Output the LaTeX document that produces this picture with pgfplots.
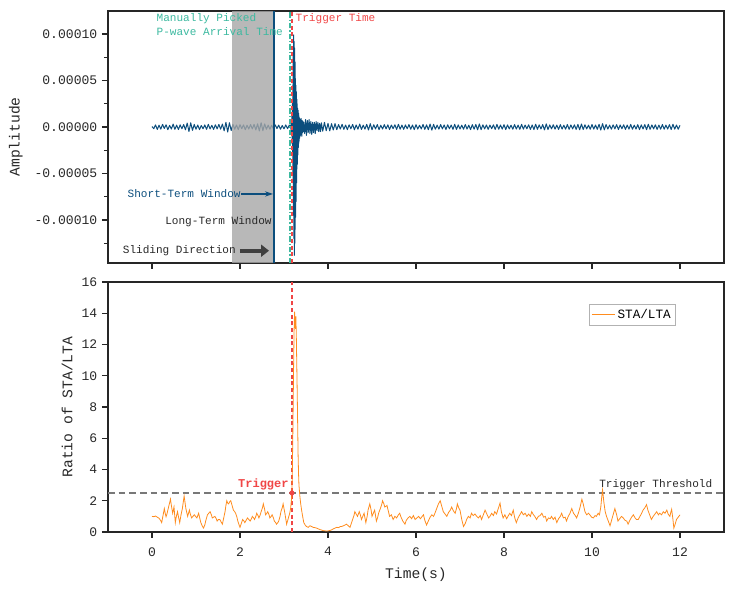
\documentclass[border=0pt]{standalone}
\usepackage{fontspec}
\setmainfont{Liberation Mono}
\usepackage{pgfplots}
\pgfplotsset{compat=1.18}
\usetikzlibrary{arrows.meta}

\definecolor{wave}{RGB}{12,78,125}
\definecolor{stalta}{RGB}{255,140,30}
\definecolor{trig}{RGB}{240,70,70}
\definecolor{pick}{RGB}{60,185,160}
\definecolor{win}{RGB}{166,166,166}
\definecolor{thr}{RGB}{120,120,120}
\definecolor{txt}{RGB}{40,40,40}

\pgfplotsset{
  panel/.style={
    scale only axis, width=462pt,
    xmin=-1, xmax=13, xtick={0,2,...,12},
    tick align=outside, xtick pos=bottom, ytick pos=left,
    axis line style={line width=0.8pt, black!85},
    major tick length=4.5pt, minor tick length=3pt,
    every tick/.style={black!85, line width=0.8pt},
    tick label style={font=\fontsize{9.8}{11}\selectfont, text=txt},
    label style={font=\fontsize{11}{13}\selectfont, text=txt},
    /pgf/number format/assume math mode=true,
  }
}

\begin{document}
\begin{tikzpicture}
\useasboundingbox (0,0) rectangle (552pt,444pt);

% ---------------- waveform (amplitude in units of 1e-6) ----------------
\begin{axis}[panel, at={(81pt,246.75pt)}, anchor=south west, height=189pt,
  ymin=-146.2, ymax=124.7,
  ytick={-100,-50,0,50,100},
  yticklabels={-0.00010,-0.00005,0.00000,0.00005,0.00010},
  minor ytick={-125,-75,-25,25,75},
  xticklabels={}, ylabel={Amplitude}, ylabel style={xshift=0pt, yshift=2pt}]

\addplot[wave, line width=0.75pt, line join=round] coordinates {
(0.00,0.5)(0.04,-1.8)(0.08,2.2)(0.12,-2.6)(0.16,1.9)(0.20,-2.3)(0.24,2.8)(0.28,-1.6)(0.32,2.4)(0.36,-2.9)
(0.40,1.7)(0.44,-2.2)(0.48,3.1)(0.52,-2.5)(0.56,2.0)(0.60,-2.7)(0.64,2.3)(0.68,-1.9)(0.72,2.6)(0.76,-3.0)
(0.80,4.2)(0.84,-4.8)(0.88,4.5)(0.92,-3.6)(0.96,2.7)(1.00,-2.4)(1.04,2.1)(1.08,-2.8)(1.12,1.6)(1.16,-1.9)
(1.20,2.2)(1.24,-2.5)(1.28,2.9)(1.32,-2.1)(1.36,1.8)(1.40,-2.6)(1.44,2.4)(1.48,-2.0)(1.52,2.7)(1.56,-2.3)
(1.60,3.2)(1.64,-4.1)(1.68,5.0)(1.72,-5.4)(1.76,4.6)(1.80,-3.8)(1.84,2.9)(1.88,-2.4)(1.92,2.1)(1.96,-2.7)
(2.00,2.5)(2.04,-1.8)(2.08,2.3)(2.12,-2.9)(2.16,1.9)(2.20,-2.2)(2.24,2.6)(2.28,-2.0)(2.32,2.8)(2.36,-3.1)
(2.40,3.4)(2.44,-4.2)(2.48,4.6)(2.52,-3.9)(2.56,3.3)(2.60,-2.5)(2.64,2.0)(2.68,-2.4)(2.72,1.8)(2.76,-2.1)
(2.80,2.3)(2.84,-1.7)(2.88,2.0)(2.92,-2.4)(2.96,1.6)(3.00,-2.0)(3.04,2.2)(3.08,-1.8)(3.12,2.1)
(3.150,1)(3.155,-2)(3.160,3)(3.165,-4)(3.170,6)(3.175,-8)(3.180,12)(3.185,-18)(3.190,25)(3.195,-30)
(3.200,45)(3.205,-60)(3.210,80)(3.215,-95)(3.220,99)(3.225,-120)(3.230,92)(3.235,-138)(3.240,85)(3.245,-125)
(3.250,70)(3.255,-110)(3.260,52)(3.265,-97)(3.270,45)(3.275,-80)(3.280,38)(3.285,-60)(3.290,30)(3.295,-45)
(3.300,25)(3.305,-40)(3.310,20)(3.315,-30)(3.320,18)(3.325,-22)(3.330,15)(3.335,-18)(3.340,12)(3.345,-15)
(3.350,10)(3.355,-12)(3.360,9)(3.365,-10)(3.370,8)(3.375,-9)(3.380,7)(3.385,-8)(3.390,9)(3.395,-7)
(3.400,6)(3.405,-10)(3.410,7)(3.415,-6)(3.420,5)(3.425,-6)(3.430,6)(3.435,-5)(3.440,4)(3.445,-5)(3.450,5)
(3.47,-7)(3.49,8)(3.51,-9)(3.53,7)(3.55,-6)(3.57,8)(3.59,-7)(3.61,6)(3.63,-8)(3.65,5)
(3.67,-6)(3.69,5)(3.71,-7)(3.73,6)(3.75,-4)(3.77,5)(3.79,-5)(3.81,4)(3.83,-5)(3.85,4.5)
(3.88,-4.5)(3.92,5)(3.96,-4)(4.00,3.8)(4.04,-4.2)(4.08,3.5)(4.12,-3.2)(4.16,3.6)(4.20,-2.9)
(4.24,2.6)(4.28,-2.2)(4.32,2.9)(4.36,-2.5)(4.40,2.1)(4.44,-2.8)(4.48,2.4)(4.52,-1.9)(4.56,2.7)(4.60,-3.0)
(4.64,2.2)(4.68,-2.4)(4.72,3.1)(4.76,-2.6)(4.80,2.0)(4.84,-2.3)(4.88,2.8)(4.92,-3.2)(4.96,3.5)(5.00,-2.9)
(5.04,2.4)(5.08,-2.1)(5.12,2.6)(5.16,-2.8)(5.20,1.9)(5.24,-2.2)(5.28,2.5)(5.32,-2.0)(5.36,2.3)(5.40,-2.7)
(5.44,2.1)(5.48,-1.8)(5.52,2.4)(5.56,-2.6)(5.60,2.9)(5.64,-2.3)(5.68,2.0)(5.72,-2.5)(5.76,2.2)(5.80,-1.9)
(5.84,2.6)(5.88,-2.4)(5.92,2.1)(5.96,-2.8)(6.00,2.5)(6.04,-2.2)(6.08,1.8)(6.12,-2.1)(6.16,2.7)(6.20,-2.5)
(6.24,2.3)(6.28,-2.9)(6.32,3.2)(6.36,-3.4)(6.40,2.8)(6.44,-2.4)(6.48,2.0)(6.52,-2.3)(6.56,2.6)(6.60,-2.0)
(6.64,2.2)(6.68,-2.7)(6.72,2.4)(6.76,-1.9)(6.80,2.1)(6.84,-2.5)(6.88,2.9)(6.92,-2.6)(6.96,2.3)(7.00,-2.1)
(7.04,1.9)(7.08,-2.4)(7.12,2.6)(7.16,-2.2)(7.20,2.0)(7.24,-2.8)(7.28,2.5)(7.32,-2.3)(7.36,2.7)(7.40,-3.0)
(7.44,3.3)(7.48,-2.9)(7.52,2.4)(7.56,-2.1)(7.60,2.2)(7.64,-2.5)(7.68,2.0)(7.72,-1.8)(7.76,2.3)(7.80,-2.6)
(7.84,2.8)(7.88,-2.4)(7.92,2.1)(7.96,-2.2)(8.00,2.5)(8.04,-2.7)(8.08,2.3)(8.12,-2.0)(8.16,1.9)(8.20,-2.4)
(8.24,2.6)(8.28,-2.2)(8.32,2.0)(8.36,-2.5)(8.40,2.8)(8.44,-2.3)(8.48,2.1)(8.52,-1.9)(8.56,2.4)(8.60,-2.6)
(8.64,2.2)(8.68,-2.8)(8.72,3.0)(8.76,-2.5)(8.80,2.3)(8.84,-2.1)(8.88,2.6)(8.92,-3.1)(8.96,3.3)(9.00,-2.7)
(9.04,2.2)(9.08,-2.0)(9.12,2.4)(9.16,-2.3)(9.20,2.1)(9.24,-2.6)(9.28,2.5)(9.32,-2.2)(9.36,1.9)(9.40,-2.4)
(9.44,2.7)(9.48,-2.5)(9.52,2.2)(9.56,-2.0)(9.60,2.3)(9.64,-2.6)(9.68,2.8)(9.72,-3.0)(9.76,3.2)(9.80,-2.7)
(9.84,2.4)(9.88,-2.1)(9.92,2.0)(9.96,-2.4)(10.00,2.6)(10.04,-2.3)(10.08,2.1)(10.12,-2.5)(10.16,2.9)(10.20,-3.3)
(10.24,3.6)(10.28,-3.1)(10.32,2.6)(10.36,-2.2)(10.40,2.0)(10.44,-2.4)(10.48,2.3)(10.52,-2.0)(10.56,2.5)(10.60,-2.7)
(10.64,2.2)(10.68,-1.9)(10.72,2.4)(10.76,-2.6)(10.80,2.1)(10.84,-2.3)(10.88,2.7)(10.92,-2.4)(10.96,2.0)(11.00,-2.2)
(11.04,2.5)(11.08,-2.8)(11.12,2.3)(11.16,-2.1)(11.20,2.6)(11.24,-2.9)(11.28,3.0)(11.32,-2.5)(11.36,2.2)(11.40,-2.0)
(11.44,2.4)(11.48,-2.6)(11.52,2.1)(11.56,-2.3)(11.60,2.7)(11.64,-2.4)(11.68,2.0)(11.72,-2.2)(11.76,2.5)(11.80,-2.7)
(11.84,2.9)(11.88,-2.3)(11.92,2.1)(11.96,-2.4)(12.00,1.8)
};

% long-term window shading
\addplot[draw=none, fill=win, fill opacity=0.8] coordinates
  {(1.82,-146.2)(1.82,124.7)(2.77,124.7)(2.77,-146.2)} -- cycle;
% short-term window edge
\addplot[wave, line width=1.4pt] coordinates {(2.77,-146.2)(2.77,124.7)};
% manual pick and trigger time
\addplot[pick, line width=1.1pt, dash pattern=on 4pt off 1.5pt on 1pt off 1.5pt] coordinates {(3.14,-146.2)(3.14,124.7)};
\addplot[trig, line width=1.1pt, dash pattern=on 3pt off 2pt] coordinates {(3.18,-146.2)(3.18,124.7)};

% arrows
\addplot[wave, line width=0.9pt, -{Stealth[length=6pt,width=4pt]}] coordinates {(2.02,-72)(2.75,-72)};
\addplot[black!75, line width=3.2pt, -{Triangle[length=6pt,width=9pt]}] coordinates {(2.00,-133)(2.66,-133)};

\node[anchor=west, align=left, text=pick, font=\fontsize{8.3}{10}\selectfont, inner sep=0pt]
  at (axis cs:0.10,110) {Manually Picked\\P-wave Arrival Time};
\node[anchor=west, text=trig, font=\fontsize{8.3}{10}\selectfont, inner sep=0pt]
  at (axis cs:3.26,117) {Trigger Time};
\node[anchor=east, text=wave, font=\fontsize{8.3}{10}\selectfont, inner sep=0pt]
  at (axis cs:2.02,-72) {Short-Term Window};
\node[anchor=center, text=txt, font=\fontsize{8.3}{10}\selectfont, inner sep=0pt]
  at (axis cs:1.51,-102) {Long-Term Window};
\node[anchor=east, text=txt, font=\fontsize{8.3}{10}\selectfont, inner sep=0pt]
  at (axis cs:1.91,-133) {Sliding Direction};
\end{axis}

% ---------------- STA/LTA ratio ----------------
\begin{axis}[panel, at={(81pt,45pt)}, anchor=south west, height=187.5pt,
  ymin=0, ymax=16, ytick={0,2,...,16},
  xticklabel style={yshift=-3.5pt},
  xlabel={Time(s)}, xlabel style={yshift=-2pt},
  ylabel={Ratio of STA/LTA},
  legend style={at={(0.781,0.912)}, anchor=north west, draw=black!30,
    font=\fontsize{9.5}{11}\selectfont, inner sep=1.5pt, row sep=0pt},
  legend cell align=left]

\addplot[thr, line width=1.1pt, dash pattern=on 5pt off 3pt, forget plot] coordinates {(-1,2.5)(13,2.5)};
\addplot[trig, line width=1.1pt, dash pattern=on 3pt off 2pt, forget plot] coordinates {(3.18,0)(3.18,16)};

\addplot[stalta, line width=0.6pt] coordinates {
(0.00,1.00)(0.04,0.98)(0.08,1.02)(0.12,0.95)(0.16,0.88)(0.20,0.72)(0.22,0.60)(0.25,1.05)(0.28,1.50)(0.30,1.20)
(0.32,0.98)(0.34,1.15)(0.36,1.40)(0.39,1.75)(0.42,2.10)(0.44,1.70)(0.47,1.20)(0.50,1.60)(0.53,0.60)(0.55,0.95)
(0.58,1.30)(0.60,1.00)(0.63,0.60)(0.66,1.10)(0.69,1.50)(0.71,1.90)(0.73,2.30)(0.75,1.90)(0.77,1.50)(0.79,1.25)
(0.81,1.00)(0.83,1.20)(0.85,1.40)(0.87,1.15)(0.90,0.90)(0.93,1.00)(0.96,1.10)(0.99,1.00)(1.02,0.90)(1.04,1.05)
(1.06,1.20)(1.08,0.95)(1.11,0.60)(1.14,0.40)(1.17,0.25)(1.20,0.45)(1.22,0.70)(1.24,0.90)(1.26,1.10)(1.29,1.20)
(1.32,1.30)(1.35,1.10)(1.37,0.90)(1.40,0.95)(1.43,1.00)(1.46,0.85)(1.48,0.70)(1.51,0.80)(1.54,0.80)(1.57,0.65)
(1.60,0.50)(1.63,0.90)(1.66,1.30)(1.68,1.70)(1.70,2.00)(1.72,1.85)(1.74,1.80)(1.77,1.95)(1.79,2.00)(1.82,1.70)
(1.85,1.40)(1.88,1.30)(1.90,1.20)(1.93,0.95)(1.95,0.70)(1.98,0.45)(2.00,0.30)(2.03,0.55)(2.06,0.80)(2.09,0.70)
(2.11,0.60)(2.14,0.75)(2.17,0.90)(2.20,0.80)(2.23,0.70)(2.26,0.85)(2.28,1.00)(2.31,0.90)(2.33,0.80)(2.36,1.00)
(2.38,1.20)(2.41,1.05)(2.43,0.90)(2.46,1.10)(2.48,1.30)(2.51,1.55)(2.53,1.80)(2.56,1.45)(2.58,1.10)(2.61,1.20)
(2.63,1.30)(2.66,1.10)(2.68,0.90)(2.71,1.00)(2.73,1.10)(2.76,0.90)(2.78,0.70)(2.81,0.60)(2.83,0.50)(2.86,0.60)
(2.88,0.70)(2.91,1.00)(2.93,1.30)(2.96,1.55)(2.98,1.80)(3.00,1.50)(3.02,1.20)(3.04,0.85)(3.06,0.50)(3.08,0.70)
(3.10,0.90)(3.13,1.20)(3.15,1.50)(3.17,2.10)(3.18,2.50)(3.19,4.00)(3.20,6.00)(3.21,8.50)(3.22,11.00)(3.23,13.00)
(3.24,14.10)(3.25,13.60)(3.26,13.00)(3.27,13.80)(3.28,12.50)(3.29,10.80)(3.30,9.00)(3.31,7.00)(3.32,5.00)(3.33,3.80)
(3.34,3.00)(3.36,2.30)(3.38,1.80)(3.40,1.40)(3.43,0.90)(3.45,0.60)(3.48,0.45)(3.51,0.35)(3.55,0.30)(3.59,0.40)
(3.63,0.35)(3.66,0.30)(3.70,0.28)(3.74,0.25)(3.78,0.20)(3.82,0.15)(3.86,0.12)(3.90,0.08)(3.94,0.07)(3.98,0.06)
(4.02,0.08)(4.05,0.10)(4.09,0.15)(4.12,0.20)(4.16,0.25)(4.20,0.30)(4.24,0.28)(4.28,0.35)(4.31,0.35)(4.35,0.40)
(4.39,0.45)(4.42,0.50)(4.46,0.40)(4.50,0.30)(4.53,0.55)(4.56,0.80)(4.59,1.05)(4.61,1.30)(4.64,1.15)(4.67,1.00)
(4.69,1.15)(4.71,1.30)(4.74,1.05)(4.76,0.80)(4.79,1.00)(4.82,1.20)(4.84,0.90)(4.86,0.60)(4.89,1.00)(4.91,1.40)
(4.93,1.60)(4.95,1.80)(4.98,1.40)(5.00,1.00)(5.03,1.20)(5.06,1.40)(5.08,1.05)(5.10,0.70)(5.13,0.95)(5.15,1.20)
(5.17,1.35)(5.19,1.50)(5.22,1.75)(5.24,2.00)(5.27,1.80)(5.29,1.60)(5.32,1.65)(5.34,1.70)(5.37,1.35)(5.40,1.00)
(5.44,1.10)(5.48,0.80)(5.52,1.00)(5.56,0.90)(5.60,1.10)(5.63,1.20)(5.66,0.95)(5.70,0.70)(5.75,0.50)(5.78,0.75)
(5.82,0.90)(5.86,1.00)(5.90,0.85)(5.94,1.05)(5.98,0.80)(6.02,0.90)(6.06,1.00)(6.10,0.85)(6.14,1.00)(6.17,1.10)
(6.20,0.75)(6.24,0.45)(6.28,0.70)(6.32,0.95)(6.36,1.10)(6.40,1.00)(6.43,1.20)(6.47,1.50)(6.51,1.80)(6.55,2.00)
(6.58,1.70)(6.62,1.30)(6.66,1.15)(6.70,1.00)(6.74,1.25)(6.78,1.40)(6.81,1.60)(6.85,1.35)(6.89,1.20)(6.92,1.50)
(6.94,1.80)(6.97,1.55)(7.00,1.40)(7.04,0.80)(7.08,0.35)(7.12,0.55)(7.15,0.80)(7.19,1.00)(7.23,0.90)(7.26,1.20)
(7.30,1.05)(7.34,1.15)(7.38,1.00)(7.42,0.90)(7.46,1.05)(7.49,0.80)(7.53,1.10)(7.57,1.40)(7.61,1.15)(7.65,0.90)
(7.68,1.00)(7.72,1.20)(7.76,1.05)(7.79,1.30)(7.83,1.15)(7.87,1.50)(7.91,1.85)(7.94,1.30)(7.98,0.90)(8.02,1.10)
(8.06,0.85)(8.09,1.00)(8.13,1.20)(8.17,1.05)(8.21,1.40)(8.24,0.95)(8.28,0.60)(8.32,0.90)(8.36,1.10)(8.40,1.30)
(8.44,1.10)(8.48,1.20)(8.52,1.00)(8.56,1.15)(8.60,1.00)(8.63,1.30)(8.67,1.10)(8.70,1.00)(8.74,0.80)(8.78,1.00)
(8.82,1.05)(8.86,1.20)(8.90,0.95)(8.94,1.00)(8.97,0.70)(9.01,0.90)(9.05,0.85)(9.08,1.00)(9.12,0.80)(9.16,0.95)
(9.20,0.60)(9.24,0.85)(9.28,1.00)(9.31,1.20)(9.35,0.90)(9.39,0.95)(9.42,0.70)(9.46,1.00)(9.50,1.20)(9.54,1.50)
(9.58,1.20)(9.62,1.05)(9.65,0.90)(9.69,1.20)(9.73,1.60)(9.77,2.10)(9.80,1.80)(9.84,1.30)(9.88,1.10)(9.92,1.20)
(9.95,1.10)(9.99,0.95)(10.03,0.90)(10.07,1.05)(10.10,1.00)(10.14,1.20)(10.17,1.10)(10.20,1.60)(10.22,2.20)(10.24,2.70)
(10.27,1.90)(10.30,1.30)(10.33,1.00)(10.37,0.70)(10.41,0.40)(10.45,0.80)(10.49,1.20)(10.52,1.50)(10.56,1.10)(10.59,0.70)
(10.63,0.85)(10.67,1.00)(10.71,0.90)(10.75,0.75)(10.79,0.70)(10.82,0.50)(10.86,0.75)(10.90,0.95)(10.94,1.10)(10.98,0.90)
(11.01,0.80)(11.05,0.80)(11.09,1.00)(11.12,1.15)(11.16,1.40)(11.20,1.55)(11.24,1.75)(11.27,1.40)(11.31,1.10)(11.35,0.80)
(11.39,1.00)(11.43,1.15)(11.47,1.30)(11.51,1.10)(11.54,1.20)(11.58,1.10)(11.62,1.30)(11.66,1.20)(11.70,1.40)(11.73,1.15)
(11.77,1.00)(11.79,1.25)(11.81,1.45)(11.84,0.80)(11.86,0.25)(11.89,0.50)(11.92,0.80)(11.96,0.95)(12.00,1.10)
};
\addlegendentry{STA/LTA}

% trigger point on the threshold
\addplot[only marks, mark=*, mark size=1.7pt, trig, forget plot] coordinates {(3.18,2.5)};

\node[anchor=south east, text=trig, font=\fontsize{9}{10}\selectfont\bfseries, inner sep=1pt]
  at (axis cs:3.14,2.6) {Trigger};
\node[anchor=south, text=txt, font=\fontsize{8.3}{10}\selectfont, inner sep=1pt]
  at (axis cs:11.45,2.6) {Trigger Threshold};
\end{axis}
\end{tikzpicture}
\end{document}
